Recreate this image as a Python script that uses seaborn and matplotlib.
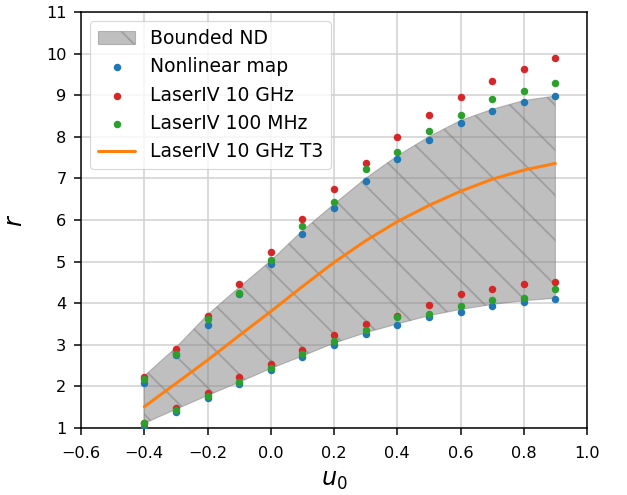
import matplotlib
matplotlib.use("Agg")
from matplotlib import pyplot as plt
import seaborn as sns

# u0 grid used by every series
u0 = [-0.4, -0.3, -0.2, -0.1, 0.0, 0.1, 0.2, 0.3, 0.4, 0.5, 0.6, 0.7, 0.8, 0.9]

# bounded region (upper / lower edge)
nd_upper = [2.25, 2.93, 3.72, 4.38, 5.02, 5.74, 6.38, 7.00, 7.54, 8.00, 8.39, 8.66, 8.87, 8.98]
nd_lower = [1.11, 1.45, 1.78, 2.10, 2.43, 2.73, 3.04, 3.29, 3.50, 3.70, 3.85, 3.97, 4.06, 4.12]

# nonlinear map
nm_upper = [2.09, 2.75, 3.48, 4.22, 4.94, 5.66, 6.30, 6.94, 7.47, 7.93, 8.32, 8.62, 8.84, 8.98]
nm_lower = [1.03, 1.39, 1.73, 2.05, 2.39, 2.70, 3.00, 3.25, 3.48, 3.68, 3.80, 3.94, 4.02, 4.10]

# LaserIV 10 GHz
ghz_upper = [2.22, 2.91, 3.69, 4.46, 5.24, 6.03, 6.74, 7.36, 8.00, 8.52, 8.95, 9.33, 9.63, 9.89]
ghz_lower = [1.13, 1.49, 1.83, 2.23, 2.55, 2.88, 3.24, 3.49, 3.69, 3.95, 4.21, 4.33, 4.46, 4.50]

# LaserIV 100 MHz
mhz_upper = [2.17, 2.77, 3.61, 4.24, 5.04, 5.86, 6.44, 7.22, 7.64, 8.14, 8.52, 8.91, 9.11, 9.30]
mhz_lower = [1.11, 1.43, 1.77, 2.11, 2.45, 2.77, 3.09, 3.35, 3.66, 3.74, 3.93, 4.08, 4.13, 4.33]

# LaserIV 10 GHz T3
t3 = [1.51, 2.07, 2.63, 3.22, 3.80, 4.40, 4.98, 5.50, 5.96, 6.35, 6.69, 6.98, 7.20, 7.36]

x_ticks = [-0.6, -0.4, -0.2, 0.0, 0.2, 0.4, 0.6, 0.8, 1.0]
y_ticks = [1, 2, 3, 4, 5, 6, 7, 8, 9, 10, 11]

sns.set_style("ticks", {"axes.grid": True, "grid.color": "#d0d0d0",
                        "axes.edgecolor": "black", "xtick.color": "black",
                        "ytick.color": "black", "text.color": "black",
                        "axes.labelcolor": "black"})
plt.rcParams["font.family"] = ["DejaVu Sans"]
plt.rcParams["hatch.linewidth"] = 0.5
plt.rcParams["grid.linewidth"] = 0.4
plt.rcParams["axes.linewidth"] = 0.4

DPI = 270
fig, ax = plt.subplots(figsize=(627 / DPI, 495 / DPI), dpi=DPI)
fig.subplots_adjust(left=81 / 627, right=587 / 627, bottom=67 / 495, top=483 / 495)
ax.set_axisbelow(True)

ax.fill_between(u0, nd_lower, nd_upper, facecolor="gray", edgecolor="gray",
                alpha=0.5, hatch="\\\\", linewidth=0.3, label="Bounded ND", zorder=1)

sns.scatterplot(x=u0 + u0, y=nm_upper + nm_lower, color="#1f77b4", s=4,
                linewidth=0, label="Nonlinear map", ax=ax, zorder=3)
sns.scatterplot(x=u0 + u0, y=ghz_upper + ghz_lower, color="#d62728", s=4,
                linewidth=0, label="LaserIV 10 GHz", ax=ax, zorder=3)
sns.scatterplot(x=u0 + u0, y=mhz_upper + mhz_lower, color="#2ca02c", s=4,
                linewidth=0, label="LaserIV 100 MHz", ax=ax, zorder=3)
sns.lineplot(x=u0, y=t3, color="#ff7f0e", linewidth=0.8,
             label="LaserIV 10 GHz T3", ax=ax, zorder=4)

ax.set_xlim(-0.6, 1.0)
ax.set_ylim(1, 11)
ax.set_xticks(x_ticks)
ax.set_yticks(y_ticks)
ax.tick_params(labelsize=4.3, length=1.9, width=0.4, pad=2)
ax.tick_params(axis="x", pad=2.8)
ax.set_xlabel("$u_0$", fontsize=6.4, labelpad=2)
ax.set_ylabel("$r$", fontsize=6.4, labelpad=5)
for s in ax.spines.values():
    s.set_visible(True)

leg = ax.legend(loc="upper left", fontsize=5.0)
leg.get_frame().set_linewidth(0.3)

fig.savefig("out.png", dpi=DPI)
